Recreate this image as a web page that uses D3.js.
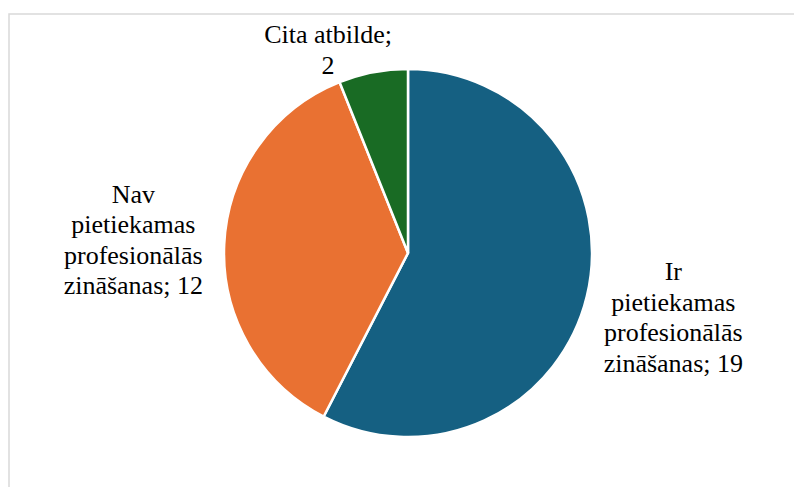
<!DOCTYPE html>
<html lang="lv">
<head>
<meta charset="utf-8">
<title>Profesionālās zināšanas</title>
<style>
  body { margin: 0; background: #fff; }
  svg { display: block; }
</style>
</head>
<body>
<div id="chart"></div>
<script src="https://d3js.org/d3.v7.min.js"></script>
<script>
// data
var categories = ["Ir pietiekamas profesionālās zināšanas",
                  "Nav pietiekamas profesionālās zināšanas",
                  "Cita atbilde"];
var values = [19, 12, 2];
var colors = ["#156082", "#E97132", "#196B24"];
var labelLines = [
    ["Ir", "pietiekamas", "profesionālās", "zināšanas; 19"],
    ["Nav", "pietiekamas", "profesionālās", "zināšanas; 12"],
    ["Cita atbilde;", "2"]
];

var width = 794, height = 487,
    cx = 408, cy = 253,
    radius = 184,
    fontSize = 26, lineH = 30.5, capH = 17;

// label placement: distance from centre and angle shift (degrees) per slice
var labelR = [273, 275, 218];
var labelShift = [0, 0, -10.6];

var data = categories.map(function(c, i) {
    return {name: c, value: values[i], color: colors[i], lines: labelLines[i]};
});

var svg = d3.select("#chart").append("svg")
    .attr("width", width)
    .attr("height", height);

// chart frame (only top and left edge fall inside the picture)
svg.append("rect")
    .attr("x", 9).attr("y", 14)
    .attr("width", width + 20).attr("height", height + 20)
    .attr("fill", "none")
    .attr("stroke", "#d9d9d9")
    .attr("stroke-width", 1.5);

var pie = d3.pie()
    .sort(null)
    .value(function(d) { return d.value; });

var arc = d3.arc()
    .innerRadius(0)
    .outerRadius(radius);

var arcs = pie(data);

var g = svg.append("g")
    .attr("transform", "translate(" + cx + "," + cy + ")");

g.selectAll("path")
    .data(arcs)
    .enter()
    .append("path")
    .attr("d", arc)
    .attr("fill", function(d) { return d.data.color; })
    .attr("stroke", "#fff")
    .attr("stroke-width", 2.5)
    .attr("stroke-linejoin", "round");

// one text element per line of each data label
g.selectAll("g.label")
    .data(arcs)
    .enter()
    .append("g")
    .attr("class", "label")
    .each(function(d, i) {
        var a = (d.startAngle + d.endAngle) / 2 + labelShift[i] * Math.PI / 180;
        var x = labelR[i] * Math.sin(a),
            y = -labelR[i] * Math.cos(a);
        var n = d.data.lines.length;
        var top = y - (capH + (n - 1) * lineH) / 2 + capH;
        d3.select(this).selectAll("text")
            .data(d.data.lines)
            .enter()
            .append("text")
            .attr("font-family", "Liberation Serif")
            .attr("font-size", fontSize)
            .attr("text-anchor", "middle")
            .attr("fill", "#000")
            .attr("x", x)
            .attr("y", function(l, k) { return top + k * lineH; })
            .text(function(l) { return l; });
    });
</script>
</body>
</html>
